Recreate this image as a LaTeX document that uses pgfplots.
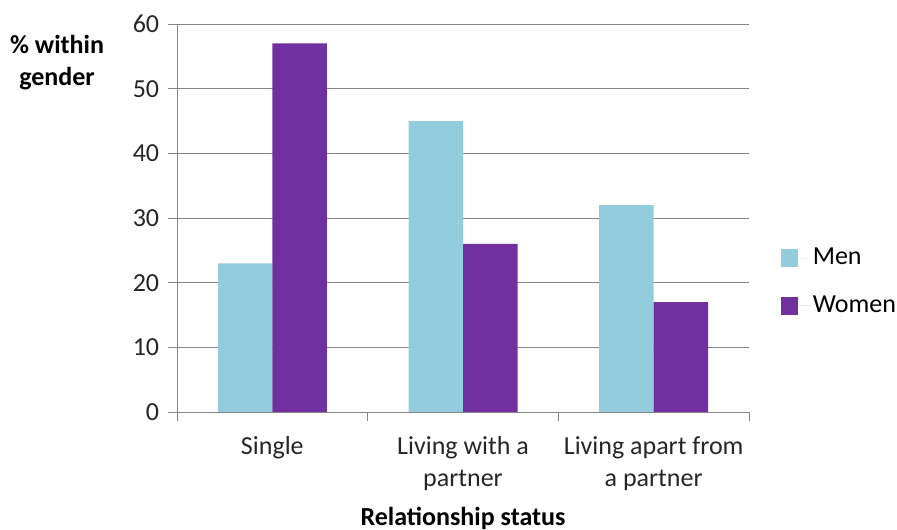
\documentclass[border=0pt]{standalone}
\usepackage{pgfplots}
\pgfplotsset{compat=1.18}
\usepackage{fontspec}
\setmainfont{Carlito}
\definecolor{men}{HTML}{93CDDD}
\definecolor{women}{HTML}{7030A0}
\definecolor{gridc}{HTML}{868686}
\begin{document}
\fontsize{26}{32}\selectfont
\begin{tikzpicture}
\begin{axis}[
  scale only axis,
  width=572pt, height=388pt,
  at={(0pt,0pt)}, anchor=south west,
  ybar=0pt, bar width=54.5pt,
  xmin=-0.5, xmax=2.5, ymin=0, ymax=60,
  xtick={0,1,2},
  xticklabels={Single,{Living with a\\partner},{Living apart from\\a partner}},
  xticklabel style={align=center, text=black!85, font=\fontsize{26}{32}\selectfont, yshift=-7pt},
  minor xtick={-0.5,0.5,1.5,2.5},
  major x tick style={draw=none},
  minor tick length=9pt,
  ytick={0,10,...,60},
  major tick length=9pt,
  tick align=outside,
  tick style={gridc, line width=0.8pt},
  yticklabel style={text=black!85, font=\fontsize{26}{32}\selectfont},
  /pgf/number format/assume math mode=true,
  ymajorgrids, grid style={gridc, line width=0.8pt},
  axis lines*=left,
  axis line style={gridc, line width=0.8pt, -},
  legend style={draw=none, fill=none, at={(1.05,0.335)}, anchor=west,
    font=\fontsize{26}{32}\selectfont, row sep=23pt, legend cell align=left},
  legend image code/.code={\path[#1] (0pt,-9pt) rectangle (17pt,9pt); \path (0pt,0pt) -- (30pt,0pt);},
]
\addplot[fill=men, draw=none] coordinates {(0,23) (1,45) (2,32)};
\addplot[fill=women, draw=none] coordinates {(0,57) (1,26) (2,17)};
\legend{Men,Women}
\end{axis}
\node[font=\bfseries\fontsize{26}{32}\selectfont, align=center] at (-120pt,349pt) {\% within\\gender};
\node[font=\bfseries\fontsize{26}{32}\selectfont] at (286pt,-106pt) {Relationship status};
\pgfresetboundingbox
\path (-177pt,-118pt) rectangle (720pt,412pt);
\end{tikzpicture}
\end{document}
